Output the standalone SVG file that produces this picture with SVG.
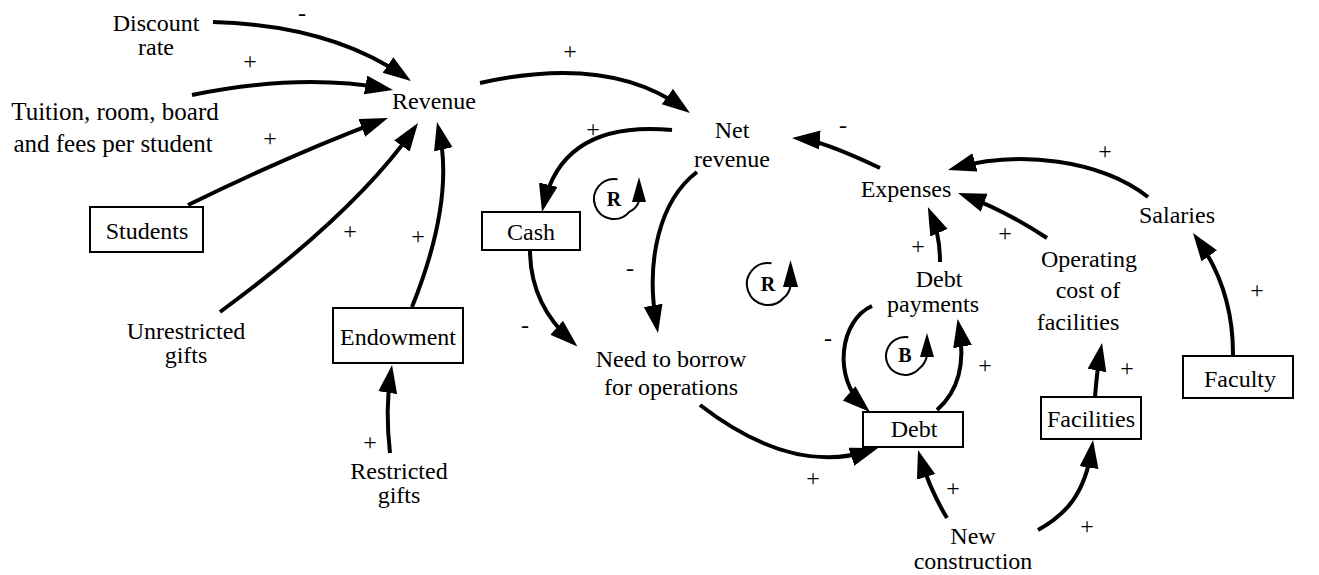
<svg xmlns="http://www.w3.org/2000/svg" width="1319" height="575" viewBox="0 0 1319 575">
  <defs>
    <style>
      text { font-family: 'Liberation Serif', 'Times New Roman', serif; font-size: 24px; fill: #000; text-anchor: middle; }
      .wide { font-size: 25px; }
      .sign { font-size: 24px; }
      .loop { font-weight: bold; font-size: 20px; }
      .box { fill: #fff; stroke: #000; stroke-width: 2; }
      .link { fill: none; stroke: #000; stroke-width: 4; marker-end: url(#ah); }
      .looparc { fill: none; stroke: #000; stroke-width: 2; }
    </style>
    <marker id="ah" markerUnits="userSpaceOnUse" markerWidth="30" markerHeight="20" refX="20" refY="9.5" orient="auto">
      <path d="M0,0 L28,9.5 L0,19 z" fill="#000"/>
    </marker>
  </defs>
  <rect width="1319" height="575" fill="#fff"/>

  <!-- causal links -->
  <g id="connectors">
    <path class="link" d="M213,22 Q330,25 404.4,76.4"/>
    <path class="link" d="M192,95 Q300,73 385.2,88.5"/>
    <path class="link" d="M188,205 Q290,155 380.5,120.8"/>
    <path class="link" d="M220,312 Q355,213 413.4,129.6"/>
    <path class="link" d="M412,307 Q455,200 438.8,129.8"/>
    <path class="link" d="M390,453 Q385,410 390.8,372.9"/>
    <path class="link" d="M480,83 Q609,54 683.5,108.3"/>
    <path class="link" d="M672,130 Q563,120 543.8,204.2"/>
    <path class="link" d="M880,168 Q820,140 800,138.6"/>
    <path class="link" d="M697,172 C660,200 645,260 656.6,325.1"/>
    <path class="link" d="M530,250 C530,290 548,320 571.5,341.2"/>
    <path class="link" d="M700,405 Q792,476 870.4,450.5"/>
    <path class="link" d="M872,306 C840,320 832,378 864,406.7"/>
    <path class="link" d="M937,410 C960,390 965,360 959,326.9"/>
    <path class="link" d="M940,262 Q940,235 931,214.4"/>
    <path class="link" d="M1047,238 Q1005,210.5 965.5,195.8"/>
    <path class="link" d="M1148,197 C1100,160 1020,150 955.7,167.8"/>
    <path class="link" d="M1233,356 Q1233.6,290 1197.6,239.6"/>
    <path class="link" d="M1095,397 Q1097,370 1100.6,350.8"/>
    <path class="link" d="M947,518 Q930,490 920.3,457.7"/>
    <path class="link" d="M1038,530 C1065,515 1085,495 1091.9,447.9"/>
  </g>

  <!-- link polarities -->
  <g id="polarities">
    <text class="sign" x="302" y="21">-</text>
    <text class="sign" x="250" y="69">+</text>
    <text class="sign" x="270" y="146">+</text>
    <text class="sign" x="350" y="239">+</text>
    <text class="sign" x="418" y="244">+</text>
    <text class="sign" x="370" y="450">+</text>
    <text class="sign" x="570" y="59">+</text>
    <text class="sign" x="593" y="137">+</text>
    <text class="sign" x="843" y="133">-</text>
    <text class="sign" x="630" y="276">-</text>
    <text class="sign" x="525" y="333">-</text>
    <text class="sign" x="1105" y="159">+</text>
    <text class="sign" x="1005" y="241">+</text>
    <text class="sign" x="918" y="254">+</text>
    <text class="sign" x="1257" y="298">+</text>
    <text class="sign" x="828" y="346">-</text>
    <text class="sign" x="985" y="373">+</text>
    <text class="sign" x="1127" y="376">+</text>
    <text class="sign" x="813" y="486">+</text>
    <text class="sign" x="953" y="496">+</text>
    <text class="sign" x="1087" y="534">+</text>
  </g>

  <!-- feedback loop markers -->
  <g id="loop-R1">
    <path class="looparc" d="M617.5,179.3 A20,20 0 1 0 629.3,211.9 Q637,208 639,201"/>
    <path d="M639,177 L646,202 L632,202 z" fill="#000"/>
    <text class="loop" x="614" y="206">R</text>
  </g>
  <g id="loop-R2">
    <path class="looparc" d="M771.5,263.3 A21,21 0 1 0 784,297.5 Q789,294 790.5,286"/>
    <path d="M790.5,260 L798,287 L783,287 z" fill="#000"/>
    <text class="loop" x="768" y="291">R</text>
  </g>
  <g id="loop-B">
    <path class="looparc" d="M908.3,337.3 A19,19 0 1 0 919.6,368.2 Q925,364 927,356"/>
    <path d="M927,333 L934,357 L920,357 z" fill="#000"/>
    <text class="loop" x="905" y="362">B</text>
  </g>

  <!-- variables -->
  <g id="discount-rate"><text x="156" y="31">Discount</text><text x="156" y="55">rate</text></g>
  <g id="tuition"><text class="wide" x="115" y="120">Tuition, room, board</text><text class="wide" x="113" y="152">and fees per student</text></g>
  <g id="revenue"><text x="434" y="109">Revenue</text></g>
  <g id="students"><rect class="box" x="90" y="207" width="113" height="45"/><text x="147" y="239">Students</text></g>
  <g id="unrestricted-gifts"><text x="186" y="339">Unrestricted</text><text x="186" y="363">gifts</text></g>
  <g id="endowment"><rect class="box" x="333" y="308" width="130" height="55"/><text x="398" y="345">Endowment</text></g>
  <g id="restricted-gifts"><text x="399" y="479">Restricted</text><text x="399" y="503">gifts</text></g>
  <g id="net-revenue"><text x="732" y="138">Net</text><text x="732" y="167">revenue</text></g>
  <g id="cash"><rect class="box" x="482" y="212" width="98" height="38"/><text x="531" y="240">Cash</text></g>
  <g id="need-to-borrow"><text x="671" y="367">Need to borrow</text><text x="671" y="395">for operations</text></g>
  <g id="expenses"><text x="906" y="197">Expenses</text></g>
  <g id="salaries"><text x="1177" y="223">Salaries</text></g>
  <g id="operating-cost"><text x="1089" y="267">Operating</text><text x="1088" y="298">cost of</text><text x="1078" y="330">facilities</text></g>
  <g id="debt-payments"><text x="939" y="287">Debt</text><text x="933" y="312">payments</text></g>
  <g id="debt"><rect class="box" x="863" y="412" width="100" height="35"/><text x="914" y="437">Debt</text></g>
  <g id="facilities"><rect class="box" x="1041" y="397" width="100" height="42"/><text x="1091" y="427">Facilities</text></g>
  <g id="faculty"><rect class="box" x="1183" y="356" width="110" height="42"/><text x="1240" y="387">Faculty</text></g>
  <g id="new-construction"><text x="973" y="544">New</text><text x="973" y="569">construction</text></g>
</svg>
